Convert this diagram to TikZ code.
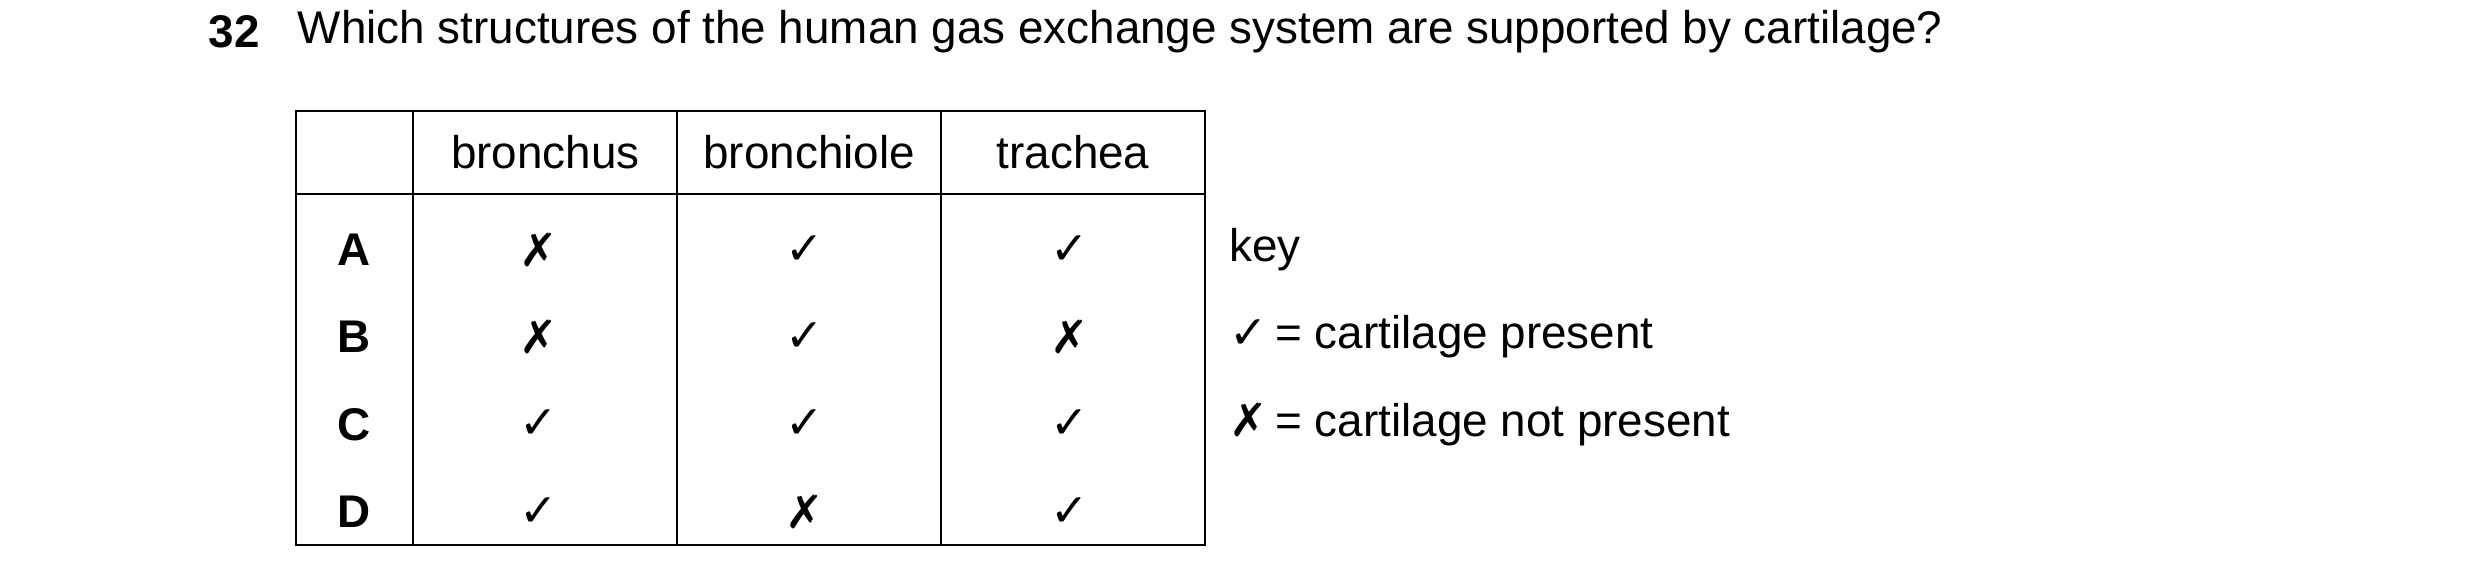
\documentclass[tikz,border=0pt]{standalone}
\usepackage{fontspec}
\setmainfont{Liberation Sans}
\newfontfamily\symf{DejaVu Sans}
\newcommand{\yes}{{\symf\bfseries ✓}}
\newcommand{\no}{{\symf\bfseries ✗}}
\begin{document}
\begin{tikzpicture}[x=0.02cm,y=-0.02cm,
  txt/.style={font=\fontsize{16.4pt}{19pt}\selectfont,inner sep=0pt},
  cell/.style={font=\fontsize{16.4pt}{19pt}\selectfont,inner sep=0pt},
  grid/.style={line width=0.8pt}]
\useasboundingbox (0,0) rectangle (1560,368);
\node[txt,anchor=west,font=\fontsize{16.4pt}{19pt}\selectfont\bfseries] (num) at (131,20) {32};
\node[txt,anchor=west] (q) at (187,20) {Which structures of the human gas exchange system are supported by cartilage?};
\draw[grid] (186,70) rectangle (758,343);
\draw[grid] (186,122) -- (758,122);
\foreach \x in {260,426,592} \draw[grid] (\x,70) -- (\x,343);
\node[cell] (h1) at (343,96) {bronchus};
\node[cell] (h2) at (509,96) {bronchiole};
\node[cell] (h3) at (675,96) {trachea};
\foreach \l/\y/\a/\b/\c in {A/157/\no/\yes/\yes, B/212/\no/\yes/\no, C/267/\yes/\yes/\yes, D/322/\yes/\no/\yes}{
  \node[cell,font=\fontsize{16.4pt}{19pt}\selectfont\bfseries] (r\l) at (223,\y) {\l};
  \node[cell] (a\l) at (339,\y) {\a};
  \node[cell] (b\l) at (506,\y) {\b};
  \node[cell] (c\l) at (673,\y) {\c};
}
\node[txt,anchor=west] (k0) at (773,157) {key};
\node[txt,anchor=west] (k1) at (773,212) {\yes\,= cartilage present};
\node[txt,anchor=west] (k2) at (773,267) {\no\,= cartilage not present};
\end{tikzpicture}
\end{document}
